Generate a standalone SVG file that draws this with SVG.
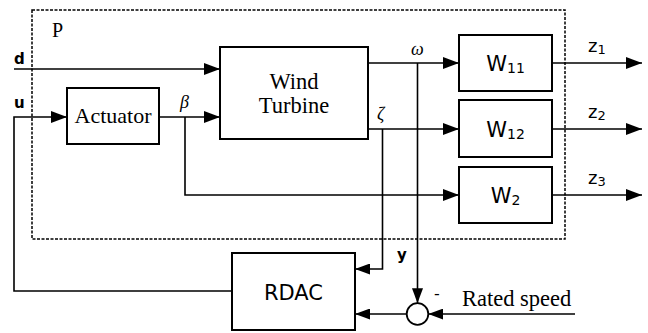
<svg xmlns="http://www.w3.org/2000/svg" width="648" height="333" viewBox="0 0 648 333">
<defs>
<marker id="ah" markerUnits="userSpaceOnUse" markerWidth="16" markerHeight="12" refX="16" refY="6" orient="auto">
<path d="M0,0 L16,6 L0,12 z" fill="#000"/>
</marker>
<marker id="as" markerUnits="userSpaceOnUse" markerWidth="15" markerHeight="11" refX="15" refY="5.5" orient="auto">
<path d="M0,0 L15,5.5 L0,11 z" fill="#000"/>
</marker>
<style>
.box{fill:#fff;stroke:#000;stroke-width:2}
.ln{fill:none;stroke:#000;stroke-width:1.6}
.serif{font-family:"Liberation Serif","Times New Roman",serif;fill:#000}
.sans{font-family:"DejaVu Sans","Liberation Sans",sans-serif;fill:#000}
.bold{font-family:"DejaVu Sans","Liberation Sans",sans-serif;font-weight:bold;fill:#000}
</style>
</defs>
<rect width="648" height="333" fill="#fff"/>
<g id="plant">
<rect x="32" y="10" width="533" height="229" fill="none" stroke="#000" stroke-width="1.5" stroke-dasharray="3,1.5"/>
<text class="serif" x="52" y="36.5" font-size="20">P</text>
</g>
<g id="connectors">
<path class="ln" d="M14,69 H220" marker-end="url(#ah)"/>
<path class="ln" d="M232,291 H14 V117 H67" marker-end="url(#ah)"/>
<path class="ln" d="M159,117 H220" marker-end="url(#ah)"/>
<path class="ln" d="M185,117 V195 H459" marker-end="url(#ah)"/>
<path class="ln" d="M368,63 H459" marker-end="url(#ah)"/>
<path class="ln" d="M368,129 H459" marker-end="url(#ah)"/>
<path class="ln" d="M417.5,63 V303.2" marker-end="url(#as)"/>
<path class="ln" d="M382.5,129 V269 H355" marker-end="url(#as)"/>
<path class="ln" d="M552,63 H642" marker-end="url(#ah)"/>
<path class="ln" d="M552,129 H642" marker-end="url(#ah)"/>
<path class="ln" d="M552,195 H642" marker-end="url(#ah)"/>
<path class="ln" d="M406.7,314 H355" marker-end="url(#as)"/>
<path class="ln" d="M575,314 H428.3" marker-end="url(#as)"/>
</g>
<g id="labels">
<text class="bold" x="14" y="63.5" font-size="15">d</text>
<text class="bold" x="14" y="108.3" font-size="15">u</text>
<text class="serif" x="180" y="108" font-size="18" font-style="italic">β</text>
<text class="serif" x="411" y="55" font-size="18" font-style="italic">ω</text>
<text class="serif" x="377" y="120" font-size="18" font-style="italic">ζ</text>
<text class="bold" x="397" y="260" font-size="15">y</text>
<text class="sans" x="588" y="52" font-size="18">z<tspan font-size="13" dy="2">1</tspan></text>
<text class="sans" x="588" y="118" font-size="18">z<tspan font-size="13" dy="2">2</tspan></text>
<text class="sans" x="588" y="184" font-size="18">z<tspan font-size="13" dy="2">3</tspan></text>
<text class="sans" x="434" y="299" font-size="16">-</text>
<text class="serif" x="462" y="306" font-size="22.5">Rated speed</text>
</g>
<g id="actuator">
<rect class="box" x="67" y="88" width="92" height="56"/>
<text class="serif" x="113" y="123.3" font-size="22" text-anchor="middle">Actuator</text>
</g>
<g id="wind-turbine">
<rect class="box" x="220" y="47" width="148" height="92"/>
<text class="serif" x="294" y="88.5" font-size="22.5" text-anchor="middle">Wind</text>
<text class="serif" x="294" y="113.3" font-size="22.5" text-anchor="middle">Turbine</text>
</g>
<g id="w11">
<rect class="box" x="459" y="35" width="93" height="56"/>
<text class="sans" x="505.5" y="71" font-size="21" text-anchor="middle">W<tspan font-size="14" dy="2">11</tspan></text>
</g>
<g id="w12">
<rect class="box" x="459" y="100" width="93" height="57"/>
<text class="sans" x="505.5" y="137" font-size="21" text-anchor="middle">W<tspan font-size="14" dy="2">12</tspan></text>
</g>
<g id="w2">
<rect class="box" x="459" y="167" width="93" height="56"/>
<text class="sans" x="505.5" y="203" font-size="21" text-anchor="middle">W<tspan font-size="14" dy="2">2</tspan></text>
</g>
<g id="rdac">
<rect class="box" x="232" y="253" width="123" height="77"/>
<text class="sans" x="293.5" y="300" font-size="21" text-anchor="middle">RDAC</text>
</g>
<g id="sum">
<circle cx="417.5" cy="314" r="10.8" fill="#fff" stroke="#000" stroke-width="1.8"/>
</g>
</svg>
